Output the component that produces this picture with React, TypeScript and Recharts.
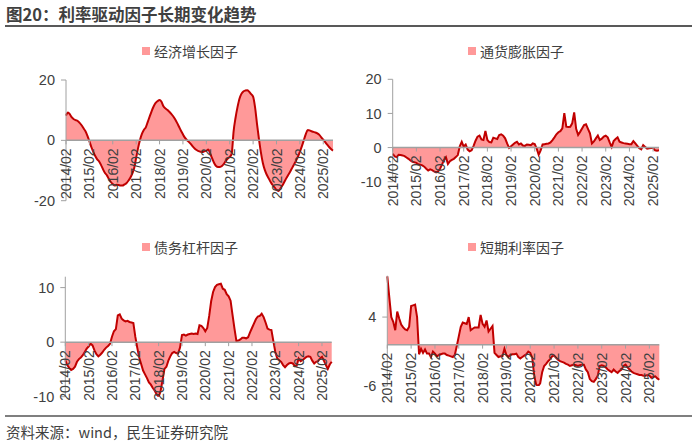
import { AreaChart, Area, XAxis, YAxis, ReferenceLine } from 'recharts';

const TEXT = '#404040';
const AXIS = '#a0a0a0';
const LINE = '#c00000';
const FILL = '#ff9999';
const FONT = "'Liberation Sans', 'Noto Sans CJK SC', sans-serif";
const CJK = "'Noto Sans CJK SC', 'Liberation Sans', sans-serif";

// monthly categories starting 2014/02
const months: string[] = Array.from({ length: 138 }, (_, i) => {
  const t = i + 1;
  return `${2014 + Math.floor(t / 12)}/${String((t % 12) + 1).padStart(2, '0')}`;
});

// 经济增长因子
const growth = [
  8.2, 9.2, 8.6, 7.6, 7.0, 6.7, 6.4, 5.8, 5.0, 4.0, 3.0, 1.5,
  -0.3, -2.2, -3.8, -5.2, -6.3, -7.0, -8.2, -9.6, -10.8, -11.6, -12.8, -13.8,
  -14.5, -15.0, -14.7, -14.8, -15.0, -15.0, -14.6, -14.2, -13.4, -12.4, -11.0, -9.2,
  -5.8, -2.5, 0.2, 2.2, 3.5, 4.4, 6.2, 8.0, 9.8, 11.3, 12.4, 13.0,
  13.4, 12.8, 11.3, 10.6, 10.1, 9.5, 8.8, 8.0, 7.0, 5.8, 4.5, 3.2,
  2.0, 0.9, 0.1, -0.5, -1.2, -2.0, -2.7, -3.2, -3.6, -3.8, -3.9, -3.6,
  -3.5, -3.0, -4.4, -6.0, -7.5, -8.5, -8.8, -8.8, -8.5, -7.8, -6.8, -6.0,
  -5.5, -4.5, 3.0, 7.5, 11.0, 13.8, 15.4, 16.2, 16.5, 16.6, 16.1, 15.3,
  14.5, 11.0, 5.5, 0.5, -4.0, -7.5, -9.8, -11.4, -12.6, -13.8, -14.8, -15.6,
  -16.4, -16.8, -16.0, -15.0, -13.8, -12.6, -11.5, -10.4, -9.2, -8.0, -6.8, -5.4,
  -3.8, -2.0, 0.0, 2.0, 3.4, 3.3, 3.0, 2.8, 2.6, 2.3, 1.8, 1.0,
  0.2, -0.6, -1.4, -2.2, -2.9, -3.4,
];

// 通货膨胀因子
const inflation = [
  -1.8, -2.6, -2.8, -2.1, -2.2, -2.3, -2.5, -2.9, -3.3, -3.8, -4.2, -4.3,
  -4.5, -4.9, -5.0, -5.2, -5.6, -6.2, -6.7, -6.4, -6.6, -7.0, -7.3, -7.0,
  -6.2, -5.0, -3.6, -2.8, -4.8, -4.0, -3.6, -3.3, -2.8, -2.2, 0.4, 1.7,
  0.3, 0.9, -0.6, -1.1, -0.8, 0.5, 2.0, 3.2, 3.5, 2.4, 2.2, 4.9,
  2.2, 1.6, 1.5, 2.9, 2.7, 2.5, 3.7, 3.9, 3.5, 2.7, 1.2, -0.1,
  0.4, 0.9, 1.4, 1.7, 0.9, 1.2, 0.6, 0.5, 0.9, 0.8, 0.7, 1.2,
  1.0, -0.3, -2.1, -0.8, 0.9, 1.0, 1.1, 1.2, 1.5, 2.2, 3.0, 3.9,
  4.5, 4.8, 5.6, 10.1, 6.1, 6.0, 6.1, 7.1, 10.3, 5.5, 3.7, 4.6,
  5.6, 6.6, 6.8, 5.5, 4.2, 1.2, 1.8, 2.7, 3.5, 2.2, 2.6, 3.2,
  3.5, 3.0, 1.5, 0.2, 1.9, 2.5, 3.0, 1.7, 1.5, 1.3, 1.2, 1.1,
  1.0, 1.0, 1.9, 1.2, 0.5, -0.2, -0.5, 0.7, 0.2, -0.3, -0.2, -0.1,
  -0.1, -0.8, -0.9, -0.8,
];

// 债务杠杆因子
const leverage = [
  -3.3, -4.2, -4.7, -5.1, -4.9, -4.5, -3.6, -3.1, -2.8, -2.4, -1.8, -1.2,
  -0.8, -0.3, -0.6, -1.5, -2.2, -2.6, -2.3, -1.9, -1.4, -1.0, -0.7, -0.3,
  1.0, 2.0, 2.4, 4.9, 5.1, 4.3, 4.0, 3.8, 3.9, 3.7, 3.6, 3.5,
  1.0, -1.0, -2.8, -4.0, -5.2, -5.9, -6.6, -7.4, -7.8, -8.4, -8.9, -9.6,
  -10.0, -9.0, -7.0, -4.9, -4.5, -3.4, -2.6, -2.0, -1.8, -2.0, -2.1, -1.0,
  1.3, 1.4, 1.2, 1.4, 1.5, 1.6, 1.5, 1.6, 1.5, 3.1, 3.0, 2.6,
  2.0, 2.6, 4.8, 7.5, 9.2, 10.1, 10.5, 10.6, 10.7, 9.8, 9.6, 8.8,
  8.4, 7.6, 5.0, 2.5, 0.2, 0.3, 0.5, 0.8, 0.8, 0.7, 0.9, 1.8,
  2.6, 3.4, 4.2, 4.7, 4.8, 5.2, 4.6, 3.6, 2.5, 2.3, 2.2, 0.2,
  -1.8, -3.0, -3.3, -3.6, -4.2, -4.6, -4.2, -3.9, -3.8, -3.9, -4.4, -4.3,
  -3.0, -3.5, -3.3, -3.0, -2.7, -2.6, -2.7, -3.4, -3.9, -3.6, -3.5, -3.0,
  -2.7, -3.4, -4.2, -4.9, -4.1, -3.6,
];

// 短期利率因子
const shortRate = [
  9.9, 6.9, 4.0, 3.3, 2.1, 4.8, 3.8, 2.9, 2.5, 2.2, 2.1, 2.6,
  5.6, 5.7, 5.8, 4.0, -1.4, -0.6, -1.2, -0.7, -1.3, -1.3, -1.8, -1.0,
  -1.3, -1.7, -1.5, -1.4, -1.3, -1.3, -1.5, -1.6, -1.7, -1.8, -1.5, -0.2,
  1.2, 2.6, 3.2, 3.1, 3.0, 4.0, 2.1, 2.3, 2.5, 2.5, 2.5, 4.3,
  3.0, 2.6, 3.5, 1.9, 2.3, 2.7, -1.2, -1.5, -1.8, -1.7, -1.7, -0.6,
  -1.5, -1.8, -1.5, -1.4, -1.4, -1.3, -1.8, -2.0, -1.8, -1.6, -1.4, -1.0,
  -1.2, -1.9, -4.5, -5.8, -6.0, -5.6, -4.0, -3.1, -2.8, -2.4, -2.1, -1.7,
  -1.6, -1.9, -2.2, -2.4, -2.5, -2.6, -2.8, -2.9, -3.1, -3.0, -2.9, -3.0,
  -3.1, -3.0, -2.9, -2.9, -3.6, -4.0, -5.0, -5.3, -5.4, -5.0, -4.5, -3.1,
  -3.0, -3.1, -3.3, -3.6, -3.8, -4.0, -3.6, -3.9, -4.1, -3.8, -3.6, -3.1,
  -2.9, -3.3, -3.6, -3.9, -4.1, -4.2, -4.3, -4.4, -4.4, -4.5, -4.5, -4.4,
  -4.5, -4.8, -4.7, -4.6, -4.9, -5.1,
];

function YearTick({ x, payload, zeroY }: { x?: number; payload?: { value: string }; zeroY: number }) {
  if (x == null || !payload) return null;
  const ty = zeroY + 8;
  return (
    <g>
      <line x1={x} y1={zeroY} x2={x} y2={zeroY + 4} stroke={AXIS} />
      <text
        x={x}
        y={ty}
        dy="0.36em"
        transform={`rotate(-90, ${x}, ${ty})`}
        textAnchor="end"
        fill={TEXT}
        fontSize={14}
        fontFamily={FONT}
      >
        {payload.value}
      </text>
    </g>
  );
}

interface PanelProps {
  name: string;
  values: number[];
  left: number;
  top: number;
  plotLeft: number;
  plotRight: number;
  plotTop: number;
  plotBottom: number;
  domain: [number, number];
  ticks: number[];
  smooth?: boolean;
  legendX: number;
  legendY: number;
}

function Panel(p: PanelProps) {
  const W = 345;
  const H = 175;
  const yW = 40;
  const xH = 10;
  const data = p.values.map((v, i) => ({ month: months[i], v }));
  const top = p.plotTop - p.top;
  const plotH = p.plotBottom - p.plotTop;
  const zeroY = top + (plotH * p.domain[1]) / (p.domain[1] - p.domain[0]);
  return (
    <>
      <div style={{ position: 'absolute', left: p.left, top: p.top }}>
        <AreaChart
          width={W}
          height={H}
          data={data}
          margin={{
            top,
            left: p.plotLeft - p.left - yW,
            right: p.left + W - p.plotRight,
            bottom: H - top - plotH - xH,
          }}
        >
          <XAxis
            dataKey="month"
            interval={11}
            axisLine={false}
            tickLine={false}
            height={xH}
            tick={<YearTick zeroY={zeroY} />}
          />
          <YAxis
            type="number"
            domain={p.domain}
            ticks={p.ticks}
            interval={0}
            allowDataOverflow
            width={yW}
            tickSize={5}
            tickMargin={6}
            axisLine={{ stroke: AXIS }}
            tickLine={{ stroke: AXIS }}
            tick={{ fill: TEXT, fontSize: 14.5, fontFamily: FONT }}
          />
          <Area
            type={p.smooth ? 'monotone' : 'linear'}
            dataKey="v"
            baseValue={0}
            stroke={LINE}
            strokeWidth={2}
            fill={FILL}
            fillOpacity={1}
            dot={false}
            activeDot={false}
            isAnimationActive={false}
          />
          <ReferenceLine y={0} stroke={AXIS} strokeWidth={1.5} />
        </AreaChart>
      </div>
      <div
        style={{
          position: 'absolute',
          left: p.legendX,
          top: p.legendY - 10,
          height: 20,
          display: 'flex',
          alignItems: 'center',
          fontFamily: CJK,
          fontSize: 14,
          color: TEXT,
          whiteSpace: 'nowrap',
        }}
      >
        <span style={{ width: 8, height: 8, background: FILL, marginRight: 4 }} />
        {p.name}
      </div>
    </>
  );
}

export default function App() {
  return (
    <div
      style={{
        position: 'fixed',
        left: 0,
        top: 0,
        width: 700,
        height: 446,
        background: '#fff',
        overflow: 'hidden',
      }}
    >
      <div
        style={{
          position: 'absolute',
          left: 6,
          top: 2,
          fontFamily: CJK,
          fontWeight: 700,
          fontSize: 16.5,
          color: TEXT,
          whiteSpace: 'nowrap',
        }}
      >
        图20：利率驱动因子长期变化趋势
      </div>
      <div style={{ position: 'absolute', left: 5, top: 25, width: 687, height: 2, background: '#595959' }} />

      <Panel
        name="经济增长因子"
        values={growth}
        left={0}
        top={60}
        plotLeft={66}
        plotRight={333}
        plotTop={80}
        plotBottom={200.7}
        domain={[-20, 20]}
        ticks={[-20, 0, 20]}
        smooth
        legendX={142}
        legendY={51}
      />
      <Panel
        name="通货膨胀因子"
        values={inflation}
        left={350}
        top={60}
        plotLeft={392.7}
        plotRight={659}
        plotTop={79.3}
        plotBottom={181.7}
        domain={[-10, 20]}
        ticks={[-10, 0, 10, 20]}
        legendX={468}
        legendY={51}
      />
      <Panel
        name="债务杠杆因子"
        values={leverage}
        left={0}
        top={255}
        plotLeft={65.3}
        plotRight={331.7}
        plotTop={276.7}
        plotBottom={396.7}
        domain={[-10, 12]}
        ticks={[-10, 0, 10]}
        legendX={142}
        legendY={247}
      />
      <Panel
        name="短期利率因子"
        values={shortRate}
        left={350}
        top={255}
        plotLeft={387.3}
        plotRight={659.3}
        plotTop={275.7}
        plotBottom={386}
        domain={[-6, 10]}
        ticks={[-6, 4]}
        legendX={468}
        legendY={247}
      />

      <div style={{ position: 'absolute', left: 5, top: 415, width: 687, height: 2, background: '#7f7f7f' }} />
      <div
        style={{
          position: 'absolute',
          left: 6,
          top: 421,
          fontFamily: CJK,
          fontSize: 14.5,
          color: TEXT,
          whiteSpace: 'nowrap',
        }}
      >
        资料来源：wind，民生证券研究院
      </div>
    </div>
  );
}
